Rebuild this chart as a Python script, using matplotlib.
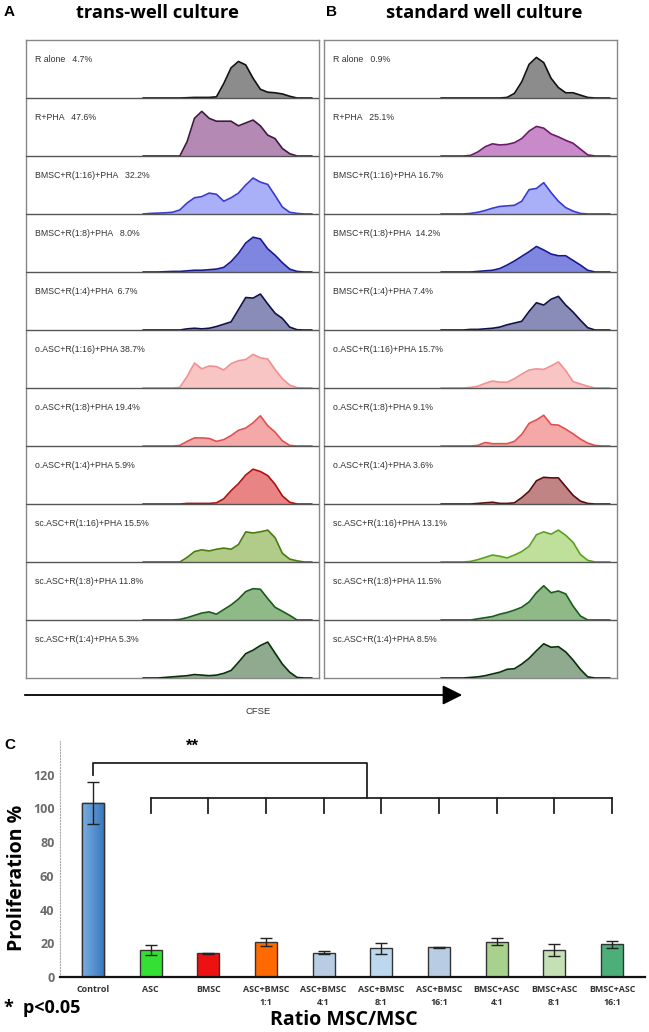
import numpy as np
import matplotlib
matplotlib.use('Agg')
import matplotlib.pyplot as plt

# CFSE channel grid (percent of panel width) shared by every histogram
cfse = [40, 42.5, 45, 47.5, 50, 52.5, 55, 57.5, 60, 62.5, 65, 67.5,
        70, 72.5, 75, 77.5, 80, 82.5, 85, 87.5, 90, 92.5, 95, 97.5]

# panel A: trans-well culture (heights in % of row height)
labels_a = ['R alone   4.7%', 'R+PHA   47.6%', 'BMSC+R(1:16)+PHA   32.2%',
            'BMSC+R(1:8)+PHA   8.0%', 'BMSC+R(1:4)+PHA  6.7%',
            'o.ASC+R(1:16)+PHA 38.7%', 'o.ASC+R(1:8)+PHA 19.4%',
            'o.ASC+R(1:4)+PHA 5.9%', 'sc.ASC+R(1:16)+PHA 15.5%',
            'sc.ASC+R(1:8)+PHA 11.8%', 'sc.ASC+R(1:4)+PHA 5.3%']
hist_a = [
    [0, 0, 0, 0, 0, 0, 0.5, 1, 1, 1, 2, 25, 52, 63, 57, 34, 15, 10, 9, 7, 3, 0, 0, 0],
    [0, 0, 0, 0, 0, 0, 25, 65, 77, 65, 60, 60, 60, 52, 57, 62, 52, 36, 30, 13, 4, 0, 0, 0],
    [0, 1, 1.5, 2, 3, 7, 19, 28, 30, 36, 34, 22, 28, 36, 50, 62, 55, 51, 32, 12, 3, 1, 0, 0],
    [0, 0, 0, 0.5, 1, 1, 2, 3, 3, 4, 5, 8, 18, 32, 50, 60, 57, 40, 29, 16, 5, 1, 0, 0],
    [0, 0, 0, 0, 0, 0, 2, 3, 2, 3, 6, 10, 14, 35, 56, 55, 62, 45, 29, 20, 5, 0.5, 0, 0],
    [0, 0, 0, 0, 0, 1, 20, 43, 33, 38, 37, 31, 42, 47, 49, 58, 52, 50, 32, 16, 5, 0.5, 0, 0],
    [0, 0, 0, 0, 0, 1, 8, 14, 14, 13, 8, 11, 18, 27, 31, 40, 52, 35, 24, 9, 1, 0, 0, 0],
    [0, 0, 0, 0, 0, 0, 1, 1, 1, 1, 2, 9, 23, 35, 50, 60, 56, 49, 34, 14, 3, 0, 0, 0],
    [0, 0, 0, 0, 0, 0, 8, 18, 21, 19, 22, 24, 22, 30, 52, 50, 52, 55, 42, 15, 5, 2, 0, 0],
    [0, 0, 0, 0, 0, 1, 4, 8, 12, 14, 10, 18, 26, 36, 49, 54, 53, 37, 22, 15, 8, 0, 0, 0],
    [0, 0, 0, 1, 2, 3, 4, 6, 5, 4, 5, 8, 13, 27, 42, 48, 56, 62, 43, 24, 10, 1, 0, 0],
]

# panel B: standard well culture
labels_b = ['R alone   0.9%', 'R+PHA   25.1%', 'BMSC+R(1:16)+PHA 16.7%',
            'BMSC+R(1:8)+PHA  14.2%', 'BMSC+R(1:4)+PHA 7.4%',
            'o.ASC+R(1:16)+PHA 15.7%', 'o.ASC+R(1:8)+PHA 9.1%',
            'o.ASC+R(1:4)+PHA 3.6%', 'sc.ASC+R(1:16)+PHA 13.1%',
            'sc.ASC+R(1:8)+PHA 11.5%', 'sc.ASC+R(1:4)+PHA 8.5%']
hist_b = [
    [0, 0, 0, 0, 0, 0, 0, 0, 0, 1, 8, 28, 58, 70, 61, 34, 18, 9, 9, 5, 1, 0, 0, 0],
    [0, 0, 0, 0, 1, 7, 16, 21, 19, 20, 23, 30, 43, 51, 48, 38, 33, 27, 22, 12, 2, 0, 0, 0],
    [0, 0, 0, 0, 1, 3, 6, 10, 13, 14, 15, 22, 42, 44, 54, 37, 22, 11, 5, 1, 0, 0, 0, 0],
    [0, 0, 0, 0, 0, 1, 2, 3, 6, 12, 19, 27, 35, 44, 38, 31, 28, 28, 20, 12, 3, 0, 0, 0],
    [0, 0, 0, 0, 1, 1, 2, 3, 5, 9, 12, 15, 32, 47, 43, 53, 58, 43, 31, 17, 4, 0, 0, 0],
    [0, 0, 0, 0, 1, 3, 8, 12, 10, 10, 16, 24, 31, 33, 32, 38, 45, 30, 11, 7, 3, 0, 0, 0],
    [0, 0, 0, 0, 0, 1, 6, 4, 4, 4, 8, 20, 39, 45, 53, 37, 36, 29, 21, 12, 5, 1, 0, 0],
    [0, 0, 0, 0, 0, 1, 2, 3, 1, 1, 2, 11, 22, 40, 46, 45, 45, 30, 15, 5, 1, 0, 0, 0],
    [0, 0, 0, 0, 1, 4, 8, 12, 10, 7, 12, 18, 27, 47, 52, 48, 55, 46, 34, 13, 3, 0, 0, 0],
    [0, 0, 0, 0, 0, 2, 4, 6, 10, 13, 17, 22, 31, 47, 59, 47, 50, 45, 24, 7, 0, 0, 0, 0],
    [0, 0, 0, 0, 1, 2, 4, 7, 10, 15, 16, 24, 34, 47, 59, 53, 54, 45, 31, 15, 2, 0, 0, 0],
]

# (fill, edge) colours per row
colors_a = [('#8c8c8c', '#111111'), ('#b48ab4', '#3d1a3d'), ('#aab0f8', '#3a3ad0'),
            ('#7f86e0', '#1a1a90'), ('#8a8cb8', '#10104a'), ('#f8c4c4', '#f09090'),
            ('#f4a8a8', '#e05050'), ('#e88484', '#b01010'), ('#b0cc88', '#4a7a10'),
            ('#8fba88', '#1a5a1a'), ('#8faa8f', '#0a300a')]
colors_b = [('#8c8c8c', '#111111'), ('#c98ac9', '#6a1a6a'), ('#aab0f8', '#3a3ad0'),
            ('#7f86e0', '#1a1a90'), ('#8a8cb8', '#10104a'), ('#f8c4c4', '#f09090'),
            ('#f4a8a8', '#e05050'), ('#c08484', '#5a0a0a'), ('#bfe09a', '#5aa020'),
            ('#8fba88', '#1a5a1a'), ('#8faa8f', '#0a300a')]

# bar chart data
groups = ['Control', 'ASC', 'BMSC', 'ASC+BMSC\n1:1', 'ASC+BMSC\n4:1', 'ASC+BMSC\n8:1',
          'ASC+BMSC\n16:1', 'BMSC+ASC\n4:1', 'BMSC+ASC\n8:1', 'BMSC+ASC\n16:1']
prolif = [103.2, 16.0, 14.2, 21.0, 14.5, 17.0, 17.6, 21.0, 16.0, 19.4]
prolif_err = [12.7, 2.8, 0.3, 2.4, 1.0, 3.1, 0.4, 2.0, 3.6, 2.0]
bar_colors = ['#4f8fd0', '#33e033', '#ee1111', '#ff6a00', '#b8cce4', '#bdd7ee',
              '#b8cce4', '#a9d18e', '#c5e0b4', '#4caf78']

W, H = 649, 1032
fig = plt.figure(figsize=(W / 100, H / 100), dpi=100)


def fbox(x0, y0, x1, y1):
    # pixel box (top-left origin) -> figure fraction rect
    return [x0 / W, 1 - y1 / H, (x1 - x0) / W, (y1 - y0) / H]


def hist_panel(rect, hists, labels, colors):
    ax = fig.add_axes(rect)
    n = len(hists)
    ax.set_xlim(0, 100)
    ax.set_ylim(0, n)
    for i, (h, lab, (fc, ec)) in enumerate(zip(hists, labels, colors)):
        base = n - 1 - i
        y = base + np.array(h) / 100.0
        ax.fill_between(cfse, base, y, color=fc, lw=0, zorder=2)
        ax.plot(cfse, y, color=ec, lw=1.2, zorder=3)
        ax.text(3, base + 0.67, lab, fontsize=6.3, color='#333333',
                family='Liberation Sans', va='center', ha='left')
        if i > 0:
            ax.axhline(base + 1, color='#555555', lw=1.0, zorder=4)
    ax.set_xticks([])
    ax.set_yticks([])
    for s in ax.spines.values():
        s.set_color('#888888')
        s.set_linewidth(1.0)
    return ax


hist_panel(fbox(26, 40, 319, 678), hist_a, labels_a, colors_a)
hist_panel(fbox(324, 40, 617, 678), hist_b, labels_b, colors_b)

# panel titles
fig.text(4 / W, 1 - 12 / H, 'A', fontsize=11, fontweight='bold', family='Liberation Sans', va='center')
fig.text(326 / W, 1 - 12 / H, 'B', fontsize=11, fontweight='bold', family='Liberation Sans', va='center')
fig.text(157 / W, 1 - 13 / H, 'trans-well culture', fontsize=13.2, fontweight='bold',
         family='Open Sans', ha='center', va='center')
fig.text(484 / W, 1 - 13 / H, 'standard well culture', fontsize=13.2, fontweight='bold',
         family='Open Sans', ha='center', va='center')

# CFSE arrow
fig.add_artist(matplotlib.patches.FancyArrowPatch(
    (22 / W, 1 - 695 / H), (465 / W, 1 - 695 / H), transform=fig.transFigure,
    arrowstyle='-|>,head_length=1.2,head_width=0.6', mutation_scale=10,
    color='black', lw=1.3))
fig.text(258 / W, 1 - 711 / H, 'CFSE', fontsize=6.8, family='Liberation Sans',
         color='#333333', ha='center', va='center')

# panel C bar chart
ax = fig.add_axes(fbox(60, 741, 645, 977))
pos = np.arange(len(groups))
bars = ax.bar(pos, prolif, width=0.38, color=bar_colors, edgecolor='#333333', lw=1.0, zorder=2)
ax.errorbar(pos, prolif, yerr=prolif_err, fmt='none', ecolor='#222222',
            elinewidth=1.0, capsize=4, capthick=1.0, zorder=3)

# gradient on the control bar
b0 = bars[0]
grad = np.linspace(0, 1, 50).reshape(1, -1)
cmap = matplotlib.colors.LinearSegmentedColormap.from_list('g', ['#79aee0', '#3a78bf'])
im = ax.imshow(grad, cmap=cmap, aspect='auto', zorder=2.1,
               extent=[b0.get_x(), b0.get_x() + b0.get_width(), 0, b0.get_height()])
im.set_clip_path(b0)
ax.bar(pos[0], prolif[0], width=0.38, fill=False, edgecolor='#333333', lw=1.0, zorder=2.2)

ax.set_xlim(-0.57, 9.57)
ax.set_ylim(0, 140)
ax.set_yticks([0, 20, 40, 60, 80, 100, 120])
ax.tick_params(axis='y', length=0, labelsize=9, labelcolor='#6b6b6b', pad=4)
for t in ax.get_yticklabels():
    t.set_fontweight('bold')
    t.set_family('Open Sans')
ax.set_xticks(pos)
ax.set_xticklabels(groups, fontsize=6.4, fontweight='bold', color='#333333',
                   family='Open Sans', linespacing=1.5)
ax.tick_params(axis='x', length=0, pad=6)
ax.spines['top'].set_visible(False)
ax.spines['right'].set_visible(False)
ax.spines['left'].set_linestyle(':')
ax.spines['left'].set_color('#aaaaaa')
ax.spines['bottom'].set_linewidth(1.6)
ax.spines['bottom'].set_color('#111111')
ax.patch.set_alpha(0)

# significance brackets
top_y, low_y, tick_y, cross_x = 127, 106, 97.5, 4.75
kw = dict(color='#222222', lw=1.3, clip_on=False, zorder=4)
ax.plot([pos[0], pos[0], cross_x, cross_x], [120, top_y, top_y, low_y], **kw)
ax.plot([pos[1], pos[-1]], [low_y, low_y], **kw)
for p in pos[1:]:
    ax.plot([p, p], [low_y, tick_y], **kw)
ax.text(1.73, 137, '**', fontsize=12, fontweight='bold', ha='center', va='center',
        family='Liberation Sans', clip_on=False)

fig.text(17 / W, 1 - 878 / H, 'Proliferation %', rotation=90, fontsize=14,
         fontweight='bold', family='Open Sans', ha='center', va='center')
fig.text(344 / W, 1 - 1020 / H, 'Ratio MSC/MSC', fontsize=14, fontweight='bold',
         family='Open Sans', ha='center', va='center')
fig.text(4 / W, 1 - 1008 / H, '*  p<0.05', fontsize=13, fontweight='bold',
         family='Open Sans', ha='left', va='center')
fig.text(4 / W, 1 - 745 / H, 'C', fontsize=11, fontweight='bold',
         family='Liberation Sans', ha='left', va='center')

fig.savefig('out.png', dpi=100)
